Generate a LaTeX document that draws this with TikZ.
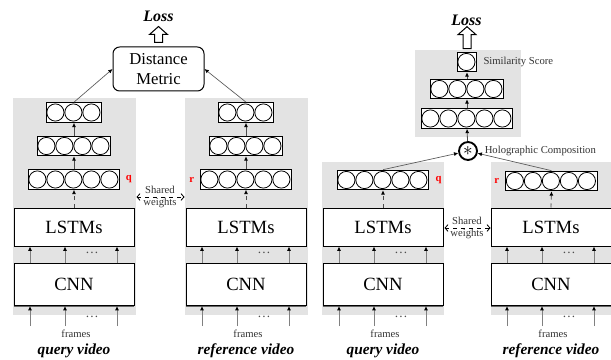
\documentclass[tikz,border=0pt]{standalone}
\usepackage{fontspec}
\setmainfont{Liberation Serif}
\usetikzlibrary{arrows.meta,calc,positioning,shadows}

\tikzset{every picture/.style={line width=0.75pt}}
\tikzset{
  panel/.style={fill=black!11, draw=none, inner sep=0pt},
  block/.style={draw, fill=white, inner sep=0pt, minimum width=90pt, minimum height=28.5pt,
    font=\fontsize{14}{16}\selectfont,
    drop shadow={shadow xshift=0pt, shadow yshift=-0.8pt, fill=black!60, opacity=1}},
  layer/.style={draw, line width=0.9pt, fill=white, inner sep=0pt, minimum height=14.6pt},
  neuron/.style={line width=0.6pt},
  up/.style={draw=black!70, line width=0.6pt, -{Latex[black,length=3.2pt,width=3pt]}},
  link/.style={draw=black!65, line width=0.5pt, -{Latex[black,length=3.2pt,width=3pt]}},
  feed/.style={draw=black!50, line width=0.6pt, -{Latex[black,length=3.2pt,width=3pt]}},
  share/.style={dashed, line width=0.6pt, {Straight Barb[length=2.2pt,width=5pt]}-{Straight Barb[length=2.2pt,width=5pt]}},
  hollow/.style={draw, fill=white, line width=0.75pt},
  small/.style={text=black!80, font=\fontsize{8}{9}\selectfont, inner sep=0.75pt},
  lossfont/.style={font=\fontsize{12}{14}\bfseries\itshape\selectfont, inner sep=0.75pt},
  title/.style={font=\fontsize{11.5}{13}\bfseries\itshape\selectfont, inner sep=0.75pt},
  tag/.style={text=red, font=\fontsize{8}{9}\bfseries\selectfont, inner sep=0.75pt},
  dotsnode/.style={font=\fontsize{10}{12}\selectfont, text=black!70, inner sep=0pt},
}

% a layer of #4 neurons, named #1, centred at (#2,#3)
\newcommand{\neurons}[4]{%
  \node[layer, minimum width={(18*#4+1.5)*0.75pt}] (#1) at (#2,#3) {};
  \foreach \k in {1,...,#4}
    \draw[neuron] ($(#1.west)+(18*\k-8.25,0)$) circle (6.45pt);
}

% CNN + LSTMs column of one video, suffix #1, centre x #2, caption #3
\newcommand{\videocol}[3]{%
  \node[block, minimum height=31.5pt] (cnn#1) at (#2,284.5) {CNN};
  \node[block] (lstm#1) at (#2,227) {LSTMs};
  \foreach \dx in {-44,-9,43} {
    \draw[feed] ($(cnn#1.north)+(\dx,0)$) -- ($(lstm#1.south)+(\dx,0)$);
    \draw[feed] ($(cnn#1.south)+(\dx,20)$) -- ($(cnn#1.south)+(\dx,0)$);
  }
  \node[dotsnode] (dotsup#1) at ($(cnn#1.north)+(18,-10)$) {\dots};
  \node[dotsnode] (dotsin#1) at ($(cnn#1.south)+(18,10.5)$) {\dots};
  \node[small] (frames#1) at (#2+2,334) {frames};
  \node[title] (video#1) at (#2,351) {#3};
}

\begin{document}
\begin{tikzpicture}[x=0.75pt,y=0.75pt,yscale=-1,xscale=1]
	\useasboundingbox (0,0) rectangle (611,360);
	
	% gray panels
	\node[panel, minimum width=92.25pt, minimum height=162.75pt] (panelq1) at (74.5,206.5) {};
	\node[panel, minimum width=92.25pt, minimum height=162.75pt] (panelr1) at (246.5,206.5) {};
	\node[panel, minimum width=91.5pt, minimum height=114.75pt] (panelq2) at (383,238.5) {};
	\node[panel, minimum width=91.5pt, minimum height=114.75pt] (panelr2) at (552,238.5) {};
	\node[panel, minimum width=79.5pt, minimum height=65.25pt] (panelc2) at (468,93.5) {};
	
	% video columns
	\videocol{q1}{74}{query video}
	\videocol{r1}{246}{reference video}
	\videocol{q2}{383}{query video}
	\videocol{r2}{551}{reference video}
	
	%% left model: distance metric
	\neurons{l5q1}{74}{179.5}{5}
	\neurons{l4q1}{74}{146}{4}
	\neurons{l3q1}{74}{112.5}{3}
	\neurons{l5r1}{246}{179.5}{5}
	\neurons{l4r1}{246}{146}{4}
	\neurons{l3r1}{246}{112.5}{3}
	
	\node[tag, right=3pt of l5q1] (tagq1) {q};
	\node[tag, left=3pt of l5r1] (tagr1) {r};
	
	\draw[up, dashed] (lstmq1.north) -- (l5q1.south);
	\draw[up] (l5q1.north) -- (l4q1.south);
	\draw[up] (l4q1.north) -- (l3q1.south);
	\draw[up, dashed] (lstmr1.north) -- (l5r1.south);
	\draw[up] (l5r1.north) -- (l4r1.south);
	\draw[up] (l4r1.north) -- (l3r1.south);
	
	\node[draw, fill=white, rounded corners=5pt, minimum width=68.25pt, minimum height=33pt,
	  align=center, inner sep=0pt, font=\fontsize{12.5}{15}\selectfont] (dm) at (158.5,69) {Distance\\Metric};
	\draw[link] (l3q1.north) -- (dm.west);
	\draw[link] (l3r1.north) -- (dm.east);
	
	\node[lossfont] (loss1) at (158.5,16) {Loss};
	\draw[hollow] ($(dm.north)+(-4,-4)$) -- ++(0,-8) -- ++(-5,0) -- ++(9,-8) -- ++(9,8) -- ++(-5,0) -- ++(0,8) -- cycle;
	
	\node[small, align=center] (sw1) at (160,197) {Shared\\weights};
	\draw[share] (panelq1.east |- sw1) -- (panelr1.west |- sw1);
	
	%% right model: holographic composition
	\neurons{l5q2}{383}{180}{5}
	\neurons{l5r2}{551.5}{181}{5}
	\node[tag, right=3.5pt of l5q2] (tagq2) {q};
	\node[tag, left=3.5pt of l5r2] (tagr2) {r};
	\draw[up, dashed] (lstmq2.north) -- (l5q2.south);
	\draw[up, dashed] (lstmr2.north) -- (l5r2.south);
	
	\node[draw, circle, line width=1.4pt, minimum size=13.5pt, inner sep=0pt, fill=white] (holo) at (468,151) {\Large$\ast$};
	\node[small, right=4pt of holo] (holotext) {Holographic Composition};
	\draw[link] (l5q2.north) -- (holo);
	\draw[link] (l5r2.north) -- (holo);
	
	\neurons{l5c2}{467}{118.5}{5}
	\neurons{l4c2}{467}{89}{4}
	\neurons{l1c2}{467}{62}{1}
	\node[small, right=3.5pt of l1c2] (simtext) {Similarity Score};
	\draw[up] (holo) -- (l5c2.south);
	\draw[up] (l5c2.north) -- (l4c2.south);
	\draw[up] (l4c2.north) -- (l1c2.south);
	
	\node[lossfont] (loss2) at (466.5,20) {Loss};
	\draw[hollow] ($(l1c2.north)+(-4,-3)$) -- ++(0,-14) -- ++(-5,0) -- ++(9,-8) -- ++(9,8) -- ++(-5,0) -- ++(0,14) -- cycle;
	
	\node[small, align=center] (sw2) at (467,228) {Shared\\weights};
	\draw[share] (panelq2.east |- sw2) -- (panelr2.west |- sw2);
	
\end{tikzpicture}
\end{document}
